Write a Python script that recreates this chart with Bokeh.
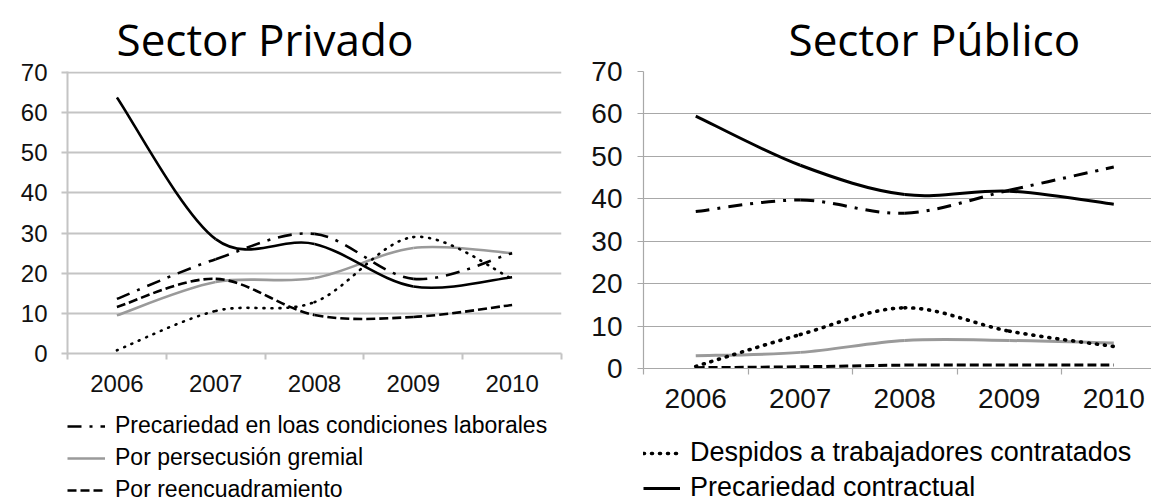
import numpy as np
from bokeh.plotting import figure
from bokeh.models import FixedTicker, Legend, LegendItem, Range1d, ColumnDataSource
from bokeh.layouts import row, column
from bokeh.embed import file_html
from bokeh.resources import INLINE

years = ["2006", "2007", "2008", "2009", "2010"]

# Sector Privado
priv_condiciones = [13.6, 23.5, 29.8, 18.6, 25.0]
priv_gremial = [9.5, 17.8, 18.8, 26.3, 25.0]
priv_reencuadramiento = [11.6, 18.6, 9.6, 9.1, 12.1]
priv_despidos = [0.8, 10.6, 12.8, 29.0, 18.6]
priv_contractual = [63.8, 28.5, 27.3, 16.7, 19.0]

# Sector Público
pub_condiciones = [37.0, 39.7, 36.6, 42.0, 47.5]
pub_gremial = [3.0, 3.8, 6.6, 6.6, 6.0]
pub_reencuadramiento = [0.2, 0.4, 0.8, 0.8, 0.8]
pub_despidos = [0.5, 8.0, 14.3, 8.8, 5.2]
pub_contractual = [59.5, 47.9, 41.0, 41.8, 38.7]

labels = {
    "condiciones": "Precariedad en loas condiciones laborales",
    "gremial": "Por persecusión gremial",
    "reencuadramiento": "Por reencuadramiento",
    "despidos": "Despidos a trabajadores contratados",
    "contractual": "Precariedad contractual",
}

xs = list(range(1, len(years) + 1))


def smooth_source(vals):
    """Bezier segments through the data points (Excel-style smoothed line)."""
    x = np.asarray(xs, dtype=float)
    y = np.asarray(vals, dtype=float)
    n = len(y)
    px = np.concatenate([[x[0]], x, [x[-1]]])
    py = np.concatenate([[y[0]], y, [y[-1]]])
    d = dict(
        x0=px[1:n], y0=py[1:n],
        x1=px[2:n + 1], y1=py[2:n + 1],
        cx0=px[1:n] + (px[2:n + 1] - px[0:n - 1]) / 6.0,
        cy0=py[1:n] + (py[2:n + 1] - py[0:n - 1]) / 6.0,
        cx1=px[2:n + 1] - (px[3:n + 2] - px[1:n]) / 6.0,
        cy1=py[2:n + 1] - (py[3:n + 2] - py[1:n]) / 6.0,
    )
    return ColumnDataSource(d)


def line_styles(lw, dot_w):
    return {
        "condiciones": dict(line_color="black", line_dash="14 8 3 8", line_width=lw),
        "gremial": dict(line_color="#9a9a9a", line_width=lw),
        "reencuadramiento": dict(line_color="black", line_dash="9 4", line_width=lw),
        "despidos": dict(line_color="black", line_dash="1 7", line_cap="round",
                         line_width=dot_w),
        "contractual": dict(line_color="black", line_width=lw),
    }


def make_chart(title, series, width, height, bottom, borders, x_end, y_end, font_px,
               grid_w, grid_col, lw, dot_w, title_offset, ystand, xstand):
    p = figure(width=width, height=height, output_backend="svg", toolbar_location=None,
               x_range=Range1d(0.5, x_end), y_range=Range1d(0, y_end),
               min_border_left=borders[0], min_border_right=borders[1],
               min_border_top=71, min_border_bottom=bottom)
    p.outline_line_color = None
    p.title.text = title
    p.title.text_font = "Open Sans"
    p.title.text_font_size = "44px"
    p.title.text_font_style = "normal"
    p.title.align = "left"
    p.title.offset = title_offset
    p.title.standoff = 6
    p.title.text_color = "black"

    p.xgrid.visible = False
    p.ygrid.grid_line_color = grid_col
    p.ygrid.grid_line_width = grid_w
    p.ygrid.ticker = FixedTicker(ticks=list(range(0, 71, 10)))

    p.yaxis.ticker = FixedTicker(ticks=list(range(0, 71, 10)))
    p.yaxis.axis_line_color = grid_col
    p.yaxis.axis_line_width = grid_w
    p.yaxis.major_tick_line_color = grid_col
    p.yaxis.major_tick_line_width = grid_w
    p.yaxis.major_tick_out = 6
    p.yaxis.major_tick_in = 0
    p.yaxis.minor_tick_line_color = None
    p.yaxis.major_label_text_font = "Liberation Sans"
    p.yaxis.major_label_text_font_size = font_px
    p.yaxis.major_label_text_color = "#111111"
    p.yaxis.major_label_standoff = ystand

    p.xaxis.ticker = FixedTicker(ticks=xs,
                                 minor_ticks=[0.5, 1.5, 2.5, 3.5, 4.5, 5.5])
    p.xaxis.major_label_overrides = {x: y for x, y in zip(xs, years)}
    p.xaxis.axis_line_color = grid_col
    p.xaxis.axis_line_width = grid_w
    p.xaxis.major_tick_line_color = None
    p.xaxis.major_tick_out = 6
    p.xaxis.major_tick_in = 0
    p.xaxis.minor_tick_line_color = grid_col
    p.xaxis.minor_tick_line_width = grid_w
    p.xaxis.minor_tick_out = 6
    p.xaxis.minor_tick_in = 0
    p.xaxis.major_label_text_font = "Liberation Sans"
    p.xaxis.major_label_text_font_size = font_px
    p.xaxis.major_label_text_color = "#111111"
    p.xaxis.major_label_standoff = xstand

    styles = line_styles(lw, dot_w)
    for key in ["gremial", "reencuadramiento", "despidos", "condiciones", "contractual"]:
        src = smooth_source(series[key])
        p.bezier(x0="x0", y0="y0", x1="x1", y1="y1", cx0="cx0", cy0="cy0",
                 cx1="cx1", cy1="cy1", source=src, **styles[key])
    return p


def make_legend(width, height, borders, series, keys, lw, dot_w, loc, font, spacing,
                glyph_w, item_h):
    # legend-only strip; its proxy lines carry the series but lie outside the view
    q = figure(width=width, height=height, output_backend="svg",
               toolbar_location=None, x_axis_type=None, y_axis_type=None,
               x_range=Range1d(100, 101), y_range=Range1d(100, 101),
               min_border_left=borders[0], min_border_right=borders[1],
               min_border_top=0, min_border_bottom=0)
    q.outline_line_color = None
    q.xgrid.visible = False
    q.ygrid.visible = False
    styles = line_styles(lw, dot_w)
    items = []
    for k in keys:
        r = q.line(x=xs, y=series[k], **styles[k])
        items.append(LegendItem(label=labels[k], renderers=[r]))
    legend = Legend(items=items, location=loc, border_line_alpha=0,
                    background_fill_alpha=0, padding=0, margin=0, spacing=spacing,
                    glyph_width=glyph_w, glyph_height=item_h, label_height=item_h,
                    label_standoff=10,
                    label_text_font="Liberation Sans", label_text_font_size=font,
                    label_text_color="black")
    q.add_layout(legend)
    return q


priv = dict(condiciones=priv_condiciones, gremial=priv_gremial,
            reencuadramiento=priv_reencuadramiento, despidos=priv_despidos,
            contractual=priv_contractual)
pub = dict(condiciones=pub_condiciones, gremial=pub_gremial,
           reencuadramiento=pub_reencuadramiento, despidos=pub_despidos,
           contractual=pub_contractual)

p1 = make_chart("Sector Privado", priv, 575, 403, 50, (67, 14), 5.5, 70.25, "24px", 2,
                "#c4c4c4", 2.6, 2.6, 49, 14, 15)
p2 = make_chart("Sector Público", pub, 576, 420, 52, (68, 0), 5.361, 70, "28px", 1.2,
                "#a8a8a8", 3, 3.6, 145, 15, 14)
l1 = make_legend(575, 100, (67, 14), priv, ["condiciones", "gremial", "reencuadramiento"],
                 2.6, 2.6, (0, 0), "23px", 5, 38, 24)
l2 = make_legend(576, 83, (68, 0), pub, ["despidos", "contractual"], 3, 3.6,
                 (0, 0), "27px", 4, 37, 30)

layout = row(column(p1, l1), column(p2, l2))
open("out.html", "w").write(file_html(layout, INLINE))
